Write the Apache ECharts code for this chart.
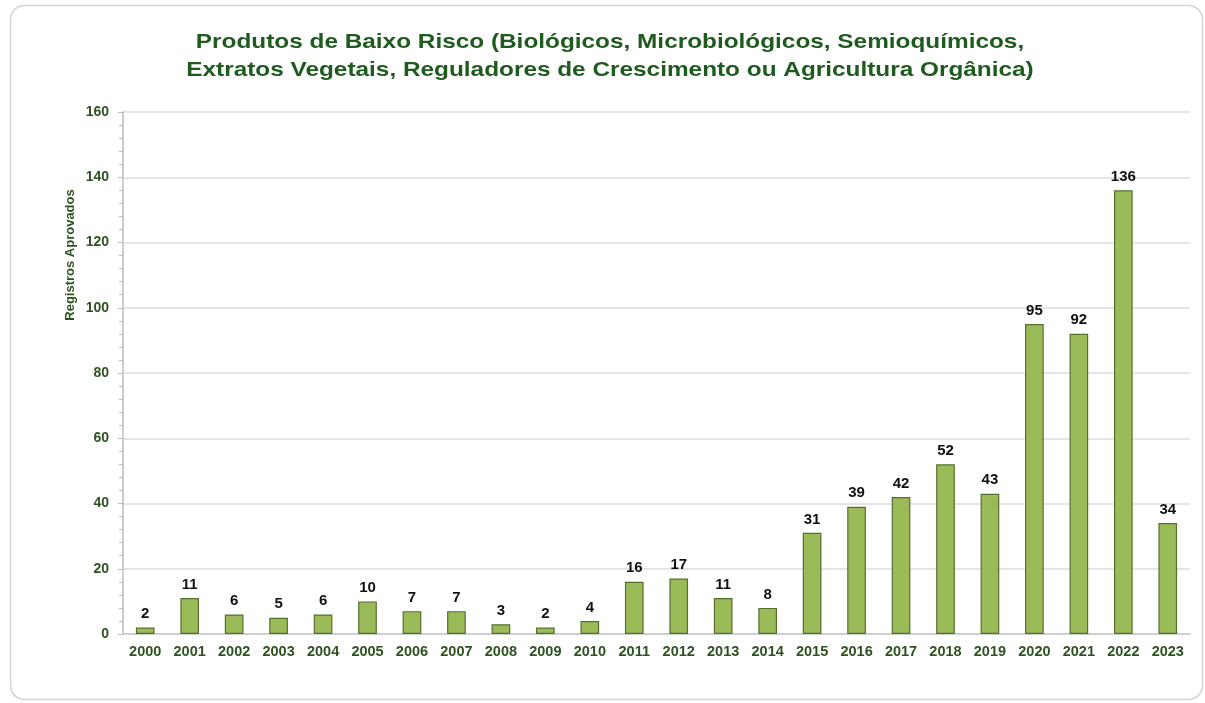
<!DOCTYPE html>
<html>
<head>
<meta charset="utf-8">
<style>
  html, body { margin: 0; padding: 0; background: #ffffff; }
  #chart { width: 1205px; height: 703px; }
</style>
<script src="https://cdn.jsdelivr.net/npm/echarts@6/dist/echarts.min.js"></script>
</head>
<body>
<div id="chart"></div>
<script>
// Registros aprovados por ano
const years = ['2000','2001','2002','2003','2004','2005','2006','2007','2008','2009','2010','2011',
               '2012','2013','2014','2015','2016','2017','2018','2019','2020','2021','2022','2023'];
const registros = [2, 11, 6, 5, 6, 10, 7, 7, 3, 2, 4, 16, 17, 11, 8, 31, 39, 42, 52, 43, 95, 92, 136, 34];
const yTicks = [0, 20, 40, 60, 80, 100, 120, 140, 160];

const titleLines = [
  'Produtos de Baixo Risco (Biológicos, Microbiológicos, Semioquímicos,',
  'Extratos Vegetais, Reguladores de Crescimento ou Agricultura Orgânica)'
];
const yName = 'Registros Aprovados';

const font = '"Liberation Sans", Arial, sans-serif';
const titleColor = '#1f5a1f';
const axisTextColor = '#2f5222';
const chart = echarts.init(document.getElementById('chart'), null, { renderer: 'canvas' });

// Wide bold heading, drawn as two centred text lines
const titleGraphics = titleLines.map((line, i) => ({
  type: 'text', silent: true,
  x: 610, y: 42 + i * 28, scaleX: 1.16,
  style: {
    text: line, fill: titleColor, font: 'bold 21px ' + font,
    textAlign: 'center', textVerticalAlign: 'middle'
  }
}));

chart.setOption({
  backgroundColor: '#ffffff',
  textStyle: { fontFamily: font },
  graphic: [
    {
      type: 'rect', z: -10, silent: true,
      shape: { x: 10.5, y: 5.5, width: 1192, height: 694, r: 14 },
      style: { fill: '#ffffff', stroke: '#d4d4d4', lineWidth: 1.5 }
    },
    ...titleGraphics,
    {
      type: 'text', silent: true,
      x: 70, y: 255, rotation: Math.PI / 2,
      style: {
        text: yName, fill: axisTextColor, font: 'bold 13px ' + font,
        textAlign: 'center', textVerticalAlign: 'middle'
      }
    }
  ],
  grid: { left: 123, right: 15, top: 112, bottom: 69, containLabel: false },
  xAxis: {
    type: 'category',
    data: years,
    axisLine: { show: true, lineStyle: { color: '#c8c8c8', width: 1.5 } },
    axisTick: { show: false },
    axisLabel: { color: axisTextColor, fontWeight: 'bold', fontSize: 14.5, margin: 10, interval: 0 }
  },
  yAxis: {
    type: 'value',
    min: yTicks[0],
    max: yTicks[yTicks.length - 1],
    interval: 20,
    axisLine: { show: true, lineStyle: { color: '#bdbdbd', width: 1.5 } },
    axisTick: { show: true, length: 5, lineStyle: { color: '#bdbdbd' } },
    minorTick: { show: true, splitNumber: 5, length: 4, lineStyle: { color: '#bdbdbd' } },
    splitLine: { show: true, lineStyle: { color: '#dcdcdc', width: 1.5 } },
    axisLabel: { color: axisTextColor, fontWeight: 'bold', fontSize: 14, margin: 14 }
  },
  series: [{
    type: 'bar',
    data: registros,
    barWidth: '42%',
    itemStyle: { color: '#9bbb59', borderColor: '#55702e', borderWidth: 1.2 },
    label: {
      show: true, position: 'top', distance: 6,
      color: '#111111', fontWeight: 'bold', fontSize: 15, fontFamily: font
    }
  }]
});
</script>
</body>
</html>
